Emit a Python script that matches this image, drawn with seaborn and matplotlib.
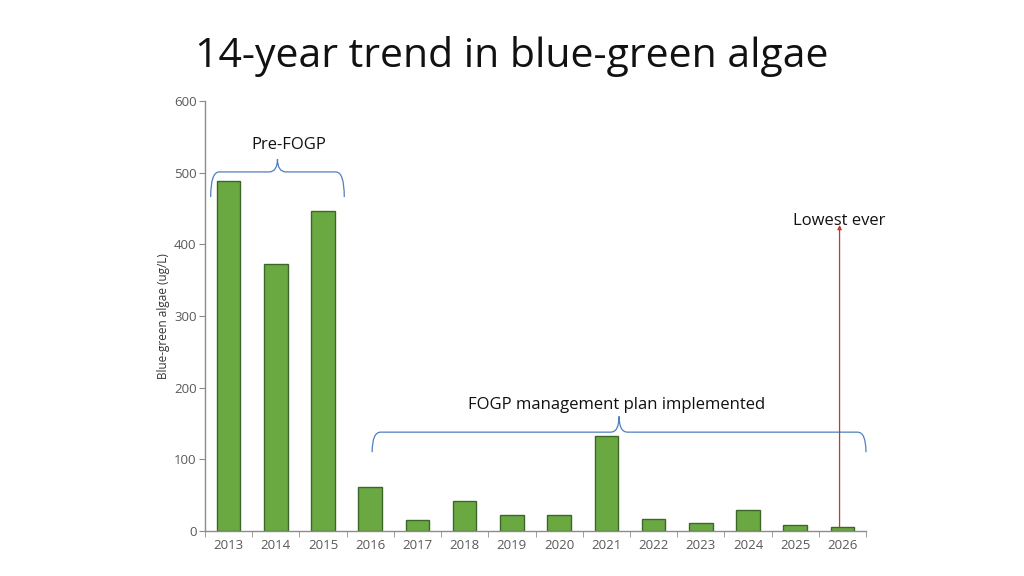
import numpy as np
import pandas as pd
import matplotlib
matplotlib.use('Agg')
import matplotlib.pyplot as plt
import seaborn as sns
from matplotlib.path import Path
from matplotlib.patches import PathPatch

years = ['2013', '2014', '2015', '2016', '2017', '2018', '2019',
         '2020', '2021', '2022', '2023', '2024', '2025', '2026']
algae = [488, 372, 446, 61, 15, 42, 23, 22, 132, 17, 11, 30, 9, 6]

title = '14-year trend in blue-green algae'
y_label = 'Blue-green algae (ug/L)'
y_ticks = [0, 100, 200, 300, 400, 500, 600]

df = pd.DataFrame({'Year': years, 'Algae': algae})

sns.set_style('white')
plt.rcParams['font.family'] = ['Open Sans', 'DejaVu Sans']

axis_grey = '#8c8c8c'
label_grey = '#595959'
brace_blue = '#4f7fbf'


def draw_brace(ax, x0, x1, y, drop, tip, r=0.18):
    """Curly brace opening downwards, ends at y - drop, tip at y + tip."""
    xm = (x0 + x1) / 2
    verts = [
        (x0, y - drop), (x0, y), (x0 + r, y),
        (xm - r, y),
        (xm, y), (xm, y + tip),
        (xm, y), (xm + r, y),
        (x1 - r, y),
        (x1, y), (x1, y - drop),
    ]
    codes = [Path.MOVETO, Path.CURVE3, Path.CURVE3,
             Path.LINETO,
             Path.CURVE3, Path.CURVE3,
             Path.CURVE3, Path.CURVE3,
             Path.LINETO,
             Path.CURVE3, Path.CURVE3]
    ax.add_patch(PathPatch(Path(verts, codes), facecolor='none',
                           edgecolor=brace_blue, lw=0.9, clip_on=False))
    return xm


fig = plt.figure(figsize=(10.24, 5.76), dpi=100)
ax = fig.add_axes([0.2002, 0.078, 0.6455, 0.7467])

sns.barplot(data=df, x='Year', y='Algae', ax=ax, width=0.5,
            color='#6aa842', edgecolor='#3f6629', linewidth=1.0,
            saturation=1)

ax.set_xlim(-0.5, len(years) - 0.5)
ax.set_ylim(0, 600)
ax.set_yticks(y_ticks)
ax.set_xlabel('')
ax.set_ylabel(y_label, fontsize=8.5, color='#333333', labelpad=3)

# Excel-style: tick marks between categories, labels centred under bars
ax.set_xticks(np.arange(len(years)))
ax.set_xticklabels(years)
ax.set_xticks(np.arange(-0.5, len(years)), minor=True)
ax.tick_params(axis='x', which='major', length=0, pad=6,
               labelsize=9.5, labelcolor=label_grey)
ax.tick_params(axis='x', which='minor', length=4, direction='out',
               color=axis_grey, bottom=True)
ax.tick_params(axis='y', length=4, direction='out', color=axis_grey,
               left=True, labelsize=9.5, labelcolor=label_grey, pad=2)

for side in ['top', 'right']:
    ax.spines[side].set_visible(False)
for side in ['left', 'bottom']:
    ax.spines[side].set_color(axis_grey)
    ax.spines[side].set_linewidth(1.0)

# Braces and their captions
xm = draw_brace(ax, -0.38, 2.45, 501, 35, 18)
ax.text(xm + 0.25, 527, 'Pre-FOGP', ha='center', va='bottom',
        fontsize=12, color='#111111')

xm = draw_brace(ax, 3.04, 13.5, 138, 28, 22)
ax.text(xm - 0.05, 165, 'FOGP management plan implemented', ha='center',
        va='bottom', fontsize=12, color='#111111')

# Arrow to the lowest value
low = len(years) - 1
ax.annotate('', xy=(low - 0.06, 427), xytext=(low - 0.06, algae[low]),
            arrowprops=dict(arrowstyle='-|>', color='#c0392b', lw=0.9,
                            mutation_scale=6, shrinkA=0, shrinkB=0))
ax.text(low - 0.06, 422, 'Lowest ever', ha='center', va='bottom',
        fontsize=12, color='#111111')

fig.text(0.5, 0.902, title, ha='center', va='center', fontsize=29.5,
         color='#111111')

fig.savefig('out.png', dpi=100)
